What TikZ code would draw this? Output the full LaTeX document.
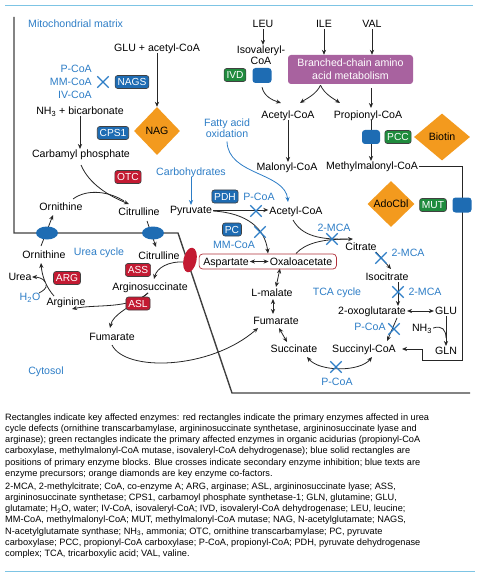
\documentclass[tikz,border=0pt]{standalone}
\usepackage{fontspec}
\setmainfont{Liberation Sans}
\usetikzlibrary{shapes.geometric,shapes.misc,arrows.meta,fit,calc,backgrounds}
\definecolor{eblue}{HTML}{1E6CB3}
\definecolor{ered}{HTML}{C31A32}
\definecolor{egreen}{HTML}{1F8B3D}
\definecolor{orng}{HTML}{F39A1E}
\definecolor{purp}{HTML}{A8629F}
\definecolor{tblue}{HTML}{2D7DC6}
\definecolor{rulec}{HTML}{7DC4E4}
\definecolor{boxred}{HTML}{B0303A}
\begin{document}
\begin{tikzpicture}[x=1pt,y=-1pt,
 lab/.style={font=\fontsize{10.6}{12}\selectfont, inner sep=1pt, text height=7.6pt, text depth=0pt},
 mlab/.style={font=\fontsize{10.6}{11}\selectfont, inner sep=1pt},
 blab/.style={lab, text=tblue},
 enz/.style={rounded corners=2.5pt, draw=black!75, line width=0.6pt, text=white, font=\fontsize{10.2}{12}\selectfont, inner xsep=2.4pt, inner ysep=0pt, minimum height=13pt},
 benz/.style={enz, fill=eblue},
 renz/.style={enz, fill=ered},
 genz/.style={enz, fill=egreen},
 blk/.style={rounded corners=3pt, fill=eblue, minimum width=19pt, minimum height=15pt, inner sep=0pt},
 dia/.style={diamond, fill=orng, lab, inner sep=0pt},
 oval/.style={ellipse, inner sep=0pt},
 xmark/.style={cross out, draw=tblue, line width=1.3pt, minimum size=10pt, inner sep=0pt},
 arr/.style={draw=black!85, line width=0.8pt, -{Stealth[length=5pt,width=4.2pt]}},
 plain/.style={draw=black!85, line width=0.8pt},
 barr/.style={arr, draw=tblue},
 darr/.style={arr, {Stealth[length=5pt,width=4.2pt]}-{Stealth[length=5pt,width=4.2pt]}},
 memb/.style={draw=black!75, line width=1.4pt},
 rulest/.style={draw=rulec, line width=1pt},
 capst/.style={anchor=north west, inner sep=0pt, align=left, font=\fontsize{9.2}{11.2}\selectfont}
]
\useasboundingbox (0,0) rectangle (478,577);

% ---------- texts ----------
\node[blab, anchor=west] (mito) at (27,24) {Mitochondrial matrix};
\node[lab] (glu) at (157,48) {GLU + acetyl-CoA};
\node[mlab, text=tblue, align=right, anchor=east, font=\fontsize{10.6}{13}\selectfont] (inh1) at (93,82) {P-CoA\\MM-CoA\\IV-CoA};
\node[xmark] (x1) at (103,82) {};
\node[benz] (nags) at (132,82) {NAGS};
\node[lab] (nh3) at (80,111) {NH\textsubscript{3} + bicarbonate};
\node[benz] (cps1) at (113,133) {CPS1};
\node[dia, minimum width=46pt, minimum height=48pt] (nag) at (157,131) {NAG};
\node[lab] (carb) at (81,154) {Carbamyl phosphate};
\node[renz] (otc) at (128,177) {OTC};
\node[blab] (carbo) at (191,172) {Carbohydrates};
\node[mlab, text=tblue, align=center] (fatty) at (227,128.5) {Fatty acid\\oxidation};
\node[lab] (orn1) at (61,207) {Ornithine};
\node[lab] (cit1) at (139,212) {Citrulline};
\node[lab] (pyr) at (191,210) {Pyruvate};

\node[lab] (leu) at (263,24) {LEU};
\node[lab] (ile) at (324,24) {ILE};
\node[lab] (val) at (372,24) {VAL};
\node[mlab, align=center] (iso) at (261,55.5) {Isovaleryl-\\CoA};
\node[genz] (ivd) at (235,75) {IVD};
\node[blk] (b1) at (262,75.5) {};
\node[rounded corners=3pt, fill=purp, text=white, minimum width=125pt, minimum height=29pt, align=center, font=\fontsize{10.6}{13}\selectfont, inner sep=0pt] (bcaa) at (350.5,69.5) {Branched-chain amino\\acid metabolism};
\node[lab] (acoa1) at (288,115) {Acetyl-CoA};
\node[lab] (pcoa) at (368,115) {Propionyl-CoA};
\node[lab] (mal) at (287,167) {Malonyl-CoA};
\node[lab] (mmcoa) at (372,166) {Methylmalonyl-CoA};
\node[blk, minimum width=18pt, minimum height=14pt] (b2) at (371,137) {};
\node[genz] (pcc) at (398,137) {PCC};
\node[dia, minimum width=56pt, minimum height=47pt] (biotin) at (442,137) {Biotin};
\node[dia, minimum width=47pt, minimum height=46pt] (adocbl) at (391,204) {AdoCbl};
\node[genz] (mut) at (433,205) {MUT};
\node[blk] (b3) at (462,205) {};

\node[benz] (pdh) at (225,196.5) {PDH};
\node[blab] (pcoa2) at (259,197) {P-CoA};
\node[lab] (acoa2) at (296,211) {Acetyl-CoA};
\node[benz] (pc) at (232,229.5) {PC};
\node[blab] (mmcoa2) at (234,245) {MM-CoA};
\node[lab] (asp) at (226,261.5) {Aspartate};
\node[lab] (oxa) at (301,261.5) {Oxaloacetate};
\node[fit=(asp)(oxa), draw=boxred, rounded corners=3.5pt, line width=0.7pt, inner xsep=3pt, inner ysep=2.5pt] (aobox) {};
\node[blab] (mca1) at (334,228) {2-MCA};
\node[lab] (citr) at (361,247) {Citrate};
\node[blab] (mca2) at (408,253) {2-MCA};
\node[lab] (isoc) at (387,277) {Isocitrate};
\node[blab] (mca3) at (425,292) {2-MCA};
\node[blab] (tca) at (337,292) {TCA cycle};
\node[lab] (lmal) at (272,293) {L-malate};
\node[lab] (oxo) at (372,311) {2-oxoglutarate};
\node[lab] (gluT) at (446,311) {GLU};
\node[lab] (nh3b) at (422,328) {NH\textsubscript{3}};
\node[lab] (gln) at (446,351) {GLN};
\node[blab] (pcoa3) at (370,327) {P-CoA};
\node[lab] (fum2) at (276,321) {Fumarate};
\node[lab] (succ) at (294,349) {Succinate};
\node[lab] (succoa) at (364,349) {Succinyl-CoA};
\node[blab] (pcoa4) at (337,382) {P-CoA};

\node[lab] (orn2) at (44,255) {Ornithine};
\node[blab] (ucyc) at (99,252) {Urea cycle};
\node[lab] (cit2) at (159,256) {Citrulline};
\node[renz] (ass) at (138,270) {ASS};
\node[lab] (argsuc) at (150,287) {Arginosuccinate};
\node[renz] (asl) at (138,303.5) {ASL};
\node[lab] (urea) at (20,277) {Urea};
\node[renz] (arg) at (67,278) {ARG};
\node[blab] (h2o) at (30,297) {H\textsubscript{2}O};
\node[lab] (argn) at (66,302) {Arginine};
\node[lab] (fum1) at (112,337) {Fumarate};
\node[blab] (cyto) at (46,371) {Cytosol};

\node[oval, fill=eblue, minimum width=22pt, minimum height=13pt] (ov1) at (47,233) {};
\node[oval, fill=eblue, minimum width=22pt, minimum height=13pt] (ov2) at (153,233) {};
\node[oval, fill=ered, minimum width=13pt, minimum height=25pt, rotate=-12] (ov3) at (190,260) {};

% crosses
\node[xmark] (x2) at (256,211) {};
\node[xmark] (x3) at (260,232) {};
\node[xmark] (x4) at (332,239) {};
\node[xmark] (x5) at (381,258) {};
\node[xmark] (x6) at (398,292) {};
\node[xmark] (x7) at (394,329) {};
\node[xmark] (x8) at (336,367) {};

% caption
\node[capst] (cap1) at (5,413.5) {Rectangles indicate key affected enzymes: red rectangles indicate the primary enzymes affected in urea\\
cycle defects (ornithine transcarbamylase, argininosuccinate synthetase, argininosuccinate lyase and\\
arginase); green rectangles indicate the primary affected enzymes in organic acidurias (propionyl-CoA\\
carboxylase, methylmalonyl-CoA mutase, isovaleryl-CoA dehydrogenase); blue solid rectangles are\\
positions of primary enzyme blocks. Blue crosses indicate secondary enzyme inhibition; blue texts are\\
enzyme precursors; orange diamonds are key enzyme co-factors.};
\node[capst] (cap2) at (5,482.5) {2-MCA, 2-methylcitrate; CoA, co-enzyme A; ARG, arginase; ASL, argininosuccinate lyase; ASS,\\
argininosuccinate synthetase; CPS1, carbamoyl phosphate synthetase-1; GLN, glutamine; GLU,\\
glutamate; H\textsubscript{2}O, water; IV-CoA, isovaleryl-CoA; IVD, isovaleryl-CoA dehydrogenase; LEU, leucine;\\
MM-CoA, methylmalonyl-CoA; MUT, methylmalonyl-CoA mutase; NAG, N-acetylglutamate; NAGS,\\
N-acetylglutamate synthase; NH\textsubscript{3}, ammonia; OTC, ornithine transcarbamylase; PC, pyruvate\\
carboxylase; PCC, propionyl-CoA carboxylase; P-CoA, propionyl-CoA; PDH, pyruvate dehydrogenase\\
complex; TCA, tricarboxylic acid; VAL, valine.};

% ---------- connectors ----------
\begin{scope}[on background layer]
\draw[rulest] (5,6) -- (473,6);
\draw[rulest] (5,571) -- (475,571);
\draw[memb] (14,17) -- (14,233) -- (178,233) -- (232,393) -- (470,393);

\draw[arr] (glu.south) -- (nag.north);
\draw[arr] (nh3.south) -- (nh3.south |- carb.north);
\draw[arr] ($(carb)+(0,11)$) .. controls ($(carb)+(8,30)$) and ($(carb)+(28,42)$) .. ($(cit1)+(-10,-8)$);
\draw[plain] ($(orn1)+(12,-8)$) .. controls ($(orn1)+(27,-19)$) and ($(cit1)+(-29,-20)$) .. ($(cit1)+(-15,-11)$);
\draw[arr] ($(orn2)+(-3,-9)$) -- ($(orn1)+(-8,8)$);
\draw[arr] ($(cit1)+(8,9)$) -- ($(cit2)+(-3,-9)$);
\draw[arr] ($(ov3)+(-5,2)$) .. controls ($(ov3)+(-22,1)$) and ($(argsuc)+(7,-19)$) .. ($(argsuc)+(4,-8)$);
\draw[arr] ($(argsuc)+(-2,6)$) .. controls ($(asl)+(-8,6)$) and ($(argn)+(29,2)$) .. ($(argn)+(6,7)$);
\draw[arr] ($(argsuc)+(-2,6)$) .. controls ($(asl)+(-8,4)$) and ($(fum1)+(1,-23)$) .. ($(fum1)+(-2,-9)$);
\draw[arr] ($(argn)+(-12,-6)$) .. controls ($(argn)+(-20,-15)$) and ($(orn2)+(-2,21)$) .. ($(orn2)+(-3,8)$);
\draw[arr] ($(argn)+(-21,-20)$) .. controls ($(argn)+(-22,-24)$) and ($(urea)+(16,0)$) .. ($(urea)+(12,0)$);
\draw[plain] ($(h2o)+(9,-4)$) .. controls ($(h2o)+(13,-6)$) and ($(argn)+(-19,-14)$) .. ($(argn)+(-20,-17)$);
\draw[arr] ($(fum1)+(0,8)$) .. controls ($(fum1)+(13,35)$) and ($(fum2)+(-66,49)$) .. ($(fum2)+(-18,7)$);

\draw[barr] (carbo.south) -- (pyr.north);
\draw[arr] (pyr.east) -- (pyr.east -| acoa2.west);
\draw[arr] ($(pyr.east)+(0,1)$) .. controls ($(pyr.east)+(34,3)$) and ($(oxa)+(-36,-33)$) .. ($(oxa)+(-33,-8)$);
\draw[barr] ($(fatty)+(0,13)$) .. controls ($(fatty)+(1,47)$) and ($(acoa2)+(-11,-39)$) .. ($(acoa2)+(-8,-9)$);
\draw[arr] (acoa1.south) -- (acoa1.south |- mal.north);
\draw[arr] (b2 |- pcoa.south) -- (b2 |- mmcoa.north);
\draw[arr] ($(bcaa.south)+(-30,1)$) .. controls ($(bcaa.south)+(-34,10)$) and ($(acoa1)+(18,-16)$) .. ($(acoa1)+(12,-12)$);
\draw[arr] ($(bcaa.south)+(-30,1)$) .. controls ($(bcaa.south)+(-26,10)$) and ($(pcoa)+(-34,-16)$) .. ($(pcoa)+(-28,-12)$);
\draw[arr] ($(b1.south)+(0,4)$) .. controls ($(b1.south)+(2,13)$) and ($(acoa1)+(-16,-15)$) .. ($(acoa1)+(-7,-12)$);
\draw[arr] ($(bcaa.south -| b2)+(0,4)$) -- ($(pcoa.north -| b2)+(0,-2)$);
\draw[arr] (leu.south) -- (leu.south |- iso.north);
\draw[arr] (ile.south) -- (ile.south |- bcaa.north);
\draw[arr] (val.south) -- (val.south |- bcaa.north);

\draw[arr] ($(acoa2)+(-3,9)$) .. controls ($(acoa2)+(6,25)$) and ($(citr)+(-41,-7)$) .. ($(citr)+(-8,-8)$);
\draw[plain] ($(oxa)+(-5,-8)$) .. controls ($(oxa)+(4,-18)$) and ($(citr)+(-39,-8)$) .. ($(citr)+(-14,-8)$);
\draw[arr] ($(citr)+(15,5)$) -- ($(isoc)+(4,-8)$);
\draw[arr] (x6 |- isoc.south) -- (x6 |- oxo.north);
\draw[darr] (oxo.east) -- (gluT.west);
\draw[arr] (gluT.south) -- (gluT.south |- gln.north);
\draw[plain] (nh3b.east) .. controls ($(nh3b.east)+(9,-3)$) and ($(gln)+(0,-21)$) .. ($(gln)+(0,-13)$);
\draw[arr] ($(oxo)+(25,7)$) -- ($(succoa)+(23,-8)$);
\draw[darr] ($(succoa)+(8,8)$) .. controls ($(succoa)+(-4,23)$) and ($(succ)+(26,23)$) .. ($(succ)+(13,8)$);
\draw[darr] ($(fum2)+(3,7)$) -- ($(succ)+(-7,-7)$);
\draw[darr] ($(lmal)+(1,6)$) -- ($(fum2)+(-3,-7)$);
\draw[darr] ($(oxa)+(-21,7)$) -- ($(lmal)+(4,-6)$);
\draw[darr] (asp.east) -- (oxa.west);
\draw[arr] (mmcoa.east) -- (b3 |- mmcoa.east) -- ($(b3)+(0,155)$) -- ($(b3)+(-40,155)$) -- ($(b3)+(-40,144)$) -- ($(succoa.east)+(5,0)$);
\end{scope}
\end{tikzpicture}
\end{document}
